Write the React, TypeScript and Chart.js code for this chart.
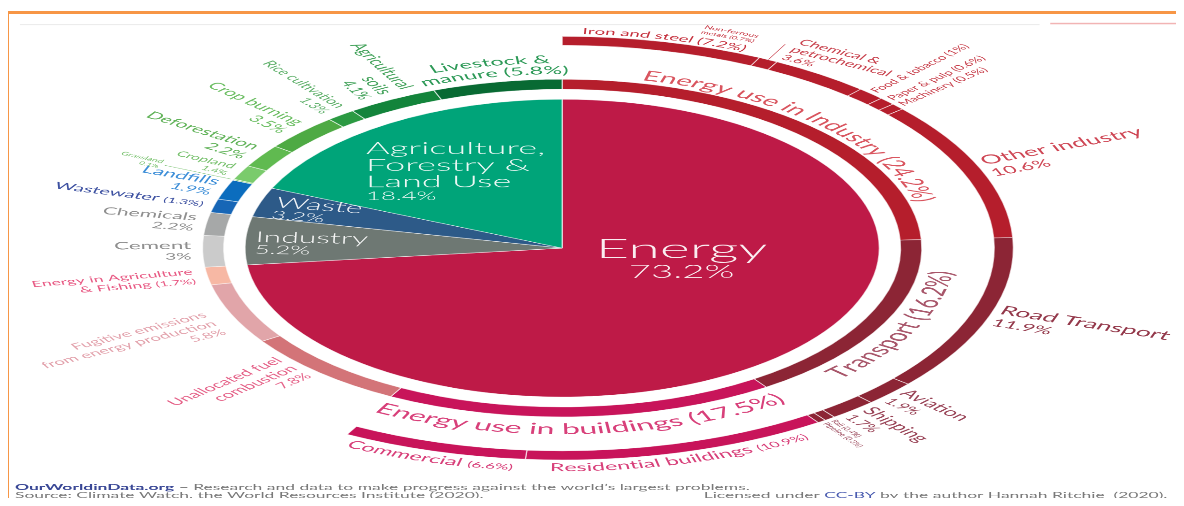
import React, { useEffect, useRef } from "react";
import { Chart, registerables } from "chart.js";

Chart.register(...registerables);

// ---------------- data ----------------
const sectorNames = ["Energy", "Industry", "Waste", "Agriculture, Forestry & Land Use"];
const sectorValues = [73.2, 5.2, 3.2, 18.4];
const sectorColors = ["#BE1A47", "#6E7873", "#2D5A88", "#00A479"];

const subNames = [
  "Energy use in Industry", "Transport", "Energy use in buildings", "Unallocated fuel combustion",
  "Fugitive emissions from energy production", "Energy in Agriculture & Fishing", "Cement", "Chemicals",
  "Wastewater", "Landfills", "Grassland", "Cropland", "Deforestation", "Crop burning",
  "Rice cultivation", "Agricultural soils", "Livestock & manure",
];
const subValues = [24.2, 16.2, 17.5, 7.8, 5.8, 1.7, 3, 2.2, 1.3, 1.9, 0.1, 1.4, 2.2, 3.5, 1.3, 4.1, 5.8];
const subColors = [
  "#B51E2C", "#8C2535", "#C8145A", "#D37478", "#E1A5A9", "#F7B8A4", "#CBCBCB", "#A6A8A8",
  "#1766B6", "#0B6DBE", "#86D07A", "#7ACB6C", "#60BA50", "#4EAA44", "#2B9A42", "#13843B", "#086A33",
];

const detailNames = [
  "Iron and steel", "Non-ferrous metals", "Chemical & petrochemical", "Food & tobacco", "Paper & pulp",
  "Machinery", "Other industry", "Road Transport", "Aviation", "Shipping", "Rail", "Pipeline",
  "Residential buildings", "Commercial",
];
const detailValues = [7.2, 0.7, 3.6, 1, 0.6, 0.5, 10.6, 11.9, 1.9, 1.7, 0.4, 0.3, 10.9, 6.6];
const detailColors = [
  "#B51E2C", "#B51E2C", "#B51E2C", "#B51E2C", "#B51E2C", "#B51E2C", "#B51E2C",
  "#8C2535", "#8C2535", "#8C2535", "#8C2535", "#8C2535", "#C8145A", "#C8145A",
];

// ---------------- layout (virtual, un-stretched space) ----------------
const VW = 548;
const VH = 498;
const SX = 1168 / VW;
const FONT = "Lato, 'Noto Sans', sans-serif";
const TRANSPARENT = "rgba(0,0,0,0)";
const SEP = "rgba(255,255,255,0.65)";

type Seg = [string, number];
type Spec = {
  ring: "sector" | "sub" | "detail";
  i: number;
  kind: "radial" | "arc" | "tangent" | "flat";
  color: string;
  lines: Seg[][];
  r?: number;
  dA?: number;
  ty?: number;
  gap?: number;
  mode?: "out" | "in";
  align?: "left" | "right" | "center";
  lh?: number;
  leader?: [number, number];
  dx?: number;
  dys?: number[];
  rot?: number;
  weight?: number;
};

const W = "rgba(255,255,255,0.92)";
const LABELS: Spec[] = [
  // centre pie
  { ring: "sector", i: 0, kind: "flat", color: W, weight: 300, align: "center", dx: 56, dys: [10, 30], lines: [[["Energy", 27]], [["{v}%", 18]]] },
  { ring: "sector", i: 3, kind: "flat", color: W, weight: 300, align: "left", dx: -92, dys: [-94, -77, -61, -48], lines: [[["Agriculture,", 17]], [["Forestry &", 17]], [["Land Use", 17]], [["{v}%", 12]]] },
  { ring: "sector", i: 2, kind: "flat", color: W, weight: 300, align: "left", dx: -135, dys: [-41, -29.5], rot: 9, lines: [[["Waste", 15]], [["{v}%", 11.5]]] },
  { ring: "sector", i: 1, kind: "flat", color: W, weight: 300, align: "left", dx: -144, dys: [-6, 5.5], rot: 2, lines: [[["Industry", 15]], [["{v}%", 12]]] },

  // inner sub-sector ring
  { ring: "sub", i: 0, kind: "arc", mode: "out", r: 172, color: "#D9555F", lines: [[["Energy use in Industry ({v}%)", 14]]] },
  { ring: "sub", i: 1, kind: "arc", mode: "in", r: 185, color: "#A8566A", lines: [[["Transport ({v}%)", 15.5]]] },
  { ring: "sub", i: 2, kind: "arc", mode: "in", r: 186, color: "#D8407A", lines: [[["Energy use in buildings ({v}%)", 15]]] },
  { ring: "sub", i: 3, kind: "radial", r: 173, dA: 6, ty: 6, color: "#E5648A", lines: [[["Unallocated fuel", 9.5]], [["combustion", 9.5]], [["{v}%", 8.5]]] },
  { ring: "sub", i: 4, kind: "radial", r: 179, dA: -5, ty: -10, color: "#E3A3AD", lines: [[["Fugitive emissions", 8.8]], [["from energy production", 8.8]], [["{v}%", 8.2]]] },
  { ring: "sub", i: 5, kind: "radial", r: 175, color: "#E85A84", lines: [[["Energy in Agriculture", 8.3]], [["& Fishing ", 8.3], ["({v}%)", 7]]] },
  { ring: "sub", i: 6, kind: "radial", r: 174, color: "#8F8F8F", lines: [[["Cement", 10.5]], [["{v}%", 9]]] },
  { ring: "sub", i: 7, kind: "radial", r: 174, color: "#8F8F8F", lines: [[["Chemicals", 10]], [["{v}%", 9]]] },
  { ring: "sub", i: 8, kind: "radial", r: 174, color: "#3D51A1", lines: [[["Wastewater ", 9.5], ["({v}%)", 7]]] },
  { ring: "sub", i: 9, kind: "radial", r: 174, color: "#3E8FD8", lines: [[["Landfills", 10.5]], [["{v}%", 9]]] },
  { ring: "sub", i: 10, kind: "radial", r: 206, color: "#76C06C", leader: [170, 204], lines: [[["Grassland", 5]], [["{v}%", 4.5]]] },
  { ring: "sub", i: 11, kind: "radial", r: 174, color: "#76C06C", lines: [[["Cropland", 7.5]], [["{v}%", 6]]] },
  { ring: "sub", i: 12, kind: "radial", r: 175, color: "#62B35A", lines: [[["Deforestation", 10]], [["{v}%", 9.5]]] },
  { ring: "sub", i: 13, kind: "radial", r: 175, color: "#6CBE63", lines: [[["Crop burning", 10]], [["{v}%", 9.5]]] },
  { ring: "sub", i: 14, kind: "radial", r: 175, color: "#5FB06A", lines: [[["Rice cultivation", 8.5]], [["{v}%", 8]]] },
  { ring: "sub", i: 15, kind: "radial", r: 175, color: "#42A25A", lines: [[["Agricultural", 10]], [["soils", 10]], [["{v}%", 9]]] },
  { ring: "sub", i: 16, kind: "arc", mode: "out", r: 185, gap: 11, color: "#2E9A58", lines: [[["Livestock &", 11]], [["manure ({v}%)", 11]]] },

  // outer detail ring
  { ring: "detail", i: 0, kind: "arc", mode: "out", r: 214, color: "#C5303D", lines: [[["Iron and steel ({v}%)", 8.7]]] },
  { ring: "detail", i: 1, kind: "tangent", r: 229, dA: -7, align: "center", lh: 1.05, leader: [212, 229], color: "#C5303D", lines: [[["Non-ferrous", 5]], [["metals ({v}%)", 4.5]]] },
  { ring: "detail", i: 2, kind: "tangent", r: 232, dA: -6.5, align: "left", lh: 1.0, color: "#C8404C", lines: [[["Chemical &", 8.5]], [["petrochemical", 8.5]], [["{v}%", 7.5]]] },
  { ring: "detail", i: 3, kind: "radial", r: 214, color: "#C8404C", lines: [[["Food & tobacco ({v}%)", 7]]] },
  { ring: "detail", i: 4, kind: "radial", r: 214, color: "#C8404C", lines: [[["Paper & pulp ({v}%)", 7]]] },
  { ring: "detail", i: 5, kind: "radial", r: 214, color: "#C8404C", lines: [[["Machinery ({v}%)", 7]]] },
  { ring: "detail", i: 6, kind: "radial", r: 215, color: "#CF4856", lines: [[["Other industry", 12.5]], [["{v}%", 10.5]]] },
  { ring: "detail", i: 7, kind: "radial", r: 215, color: "#94394B", lines: [[["Road Transport", 12.5]], [["{v}%", 10.5]]] },
  { ring: "detail", i: 8, kind: "radial", r: 215, color: "#9A4558", lines: [[["Aviation", 11]], [["{v}%", 9]]] },
  { ring: "detail", i: 9, kind: "radial", r: 215, color: "#9A4558", lines: [[["Shipping", 11]], [["{v}%", 9]]] },
  { ring: "detail", i: 10, kind: "radial", r: 214, color: "#9A4558", lines: [[["Rail ({v}%)", 4.5]]] },
  { ring: "detail", i: 11, kind: "radial", r: 214, color: "#9A4558", lines: [[["Pipeline ({v}%)", 4.5]]] },
  { ring: "detail", i: 12, kind: "arc", mode: "in", r: 223, color: "#D8407A", lines: [[["Residential buildings ", 11], ["({v}%)", 8]]] },
  { ring: "detail", i: 13, kind: "arc", mode: "in", r: 223, color: "#D8407A", lines: [[["Commercial ", 11], ["({v}%)", 8]]] },
];

function fontStr(s: number, w = 400) {
  return `${w} ${s}px ${FONT}`;
}

function segsWidth(ctx: CanvasRenderingContext2D, segs: Seg[], w: number) {
  let t = 0;
  for (const [txt, s] of segs) {
    ctx.font = fontStr(s, w);
    t += ctx.measureText(txt).width;
  }
  return t;
}

function drawSegs(ctx: CanvasRenderingContext2D, segs: Seg[], x: number, y: number, align: string, w: number) {
  const tot = segsWidth(ctx, segs, w);
  let sx = align === "left" ? x : align === "right" ? x - tot : x - tot / 2;
  ctx.textAlign = "left";
  for (const [txt, s] of segs) {
    ctx.font = fontStr(s, w);
    ctx.fillText(txt, sx, y);
    sx += ctx.measureText(txt).width;
  }
}

function drawArcLine(ctx: CanvasRenderingContext2D, cx: number, cy: number, R: number, ac: number, segs: Seg[], mode: string, w: number) {
  const items: { ch: string; s: number; cw: number }[] = [];
  for (const [txt, s] of segs) {
    ctx.font = fontStr(s, w);
    for (const ch of txt) items.push({ ch, s, cw: ctx.measureText(ch).width });
  }
  const total = items.reduce((a, b) => a + b.cw, 0);
  const span = total / R;
  let acc = 0;
  ctx.textAlign = "center";
  for (const it of items) {
    const m = (acc + it.cw / 2) / R;
    const th = mode === "out" ? ac - span / 2 + m : ac + span / 2 - m;
    ctx.save();
    ctx.translate(cx + R * Math.cos(th), cy + R * Math.sin(th));
    ctx.rotate(mode === "out" ? th + Math.PI / 2 : th - Math.PI / 2);
    ctx.font = fontStr(it.s, w);
    ctx.fillText(it.ch, 0, 0);
    ctx.restore();
    acc += it.cw;
  }
}

const labelPlugin = {
  id: "owidLabels",
  afterDatasetsDraw(chart: any) {
    const ctx: CanvasRenderingContext2D = chart.ctx;
    const metas: any = {
      detail: chart.getDatasetMeta(0),
      sub: chart.getDatasetMeta(2),
      sector: chart.getDatasetMeta(4),
    };
    const vals: any = { detail: detailValues, sub: subValues, sector: sectorValues };
    const first = metas.sector.data[0];
    const cx = first.x;
    const cy = first.y;
    ctx.save();
    ctx.textBaseline = "alphabetic";
    for (const sp of LABELS) {
      const arc = metas[sp.ring].data[sp.i];
      const mid = (arc.startAngle + arc.endAngle) / 2;
      const a = mid + ((sp.dA || 0) * Math.PI) / 180;
      const v = vals[sp.ring][sp.i];
      const lines: Seg[][] = sp.lines.map((l) => l.map(([t, s]) => [t.replace("{v}", String(v)), s] as Seg));
      const w = sp.weight || 400;
      ctx.fillStyle = sp.color;
      ctx.strokeStyle = sp.color;
      if (sp.leader) {
        ctx.beginPath();
        ctx.lineWidth = 0.4;
        ctx.moveTo(cx + sp.leader[0] * Math.cos(mid), cy + sp.leader[0] * Math.sin(mid));
        ctx.lineTo(cx + sp.leader[1] * Math.cos(mid), cy + sp.leader[1] * Math.sin(mid));
        ctx.stroke();
      }
      if (sp.kind === "flat") {
        ctx.save();
        ctx.translate(cx + (sp.dx || 0), cy + sp.dys![0]);
        if (sp.rot) ctx.rotate((sp.rot * Math.PI) / 180);
        lines.forEach((segs, k) => drawSegs(ctx, segs, 0, sp.dys![k] - sp.dys![0], sp.align || "left", w));
        ctx.restore();
      } else if (sp.kind === "radial") {
        const lh = sp.lh || 1.12;
        const right = Math.cos(a) > 0.0001;
        const bl: number[] = [];
        let y = 0;
        for (const segs of lines) {
          const s = Math.max(...segs.map((g) => g[1]));
          bl.push(y + s * 0.8);
          y += s * lh;
        }
        const H = y;
        ctx.save();
        ctx.translate(cx, cy);
        ctx.rotate(right ? a : a + Math.PI);
        const x = right ? sp.r! : -sp.r!;
        const ty = sp.ty || 0;
        lines.forEach((segs, k) => drawSegs(ctx, segs, x, bl[k] - H / 2 + ty, right ? "left" : "right", w));
        ctx.restore();
      } else if (sp.kind === "tangent") {
        const lh = sp.lh || 1.1;
        ctx.save();
        ctx.translate(cx + sp.r! * Math.cos(a), cy + sp.r! * Math.sin(a));
        ctx.rotate(a + Math.PI / 2);
        let y = 0;
        for (const segs of lines) {
          drawSegs(ctx, segs, 0, y, sp.align || "left", w);
          y += Math.max(...segs.map((g) => g[1])) * lh;
        }
        ctx.restore();
      } else {
        const gap = sp.gap || 12;
        lines.forEach((segs, k) => {
          const R = sp.mode === "out" ? sp.r! - k * gap : sp.r! + k * gap;
          drawArcLine(ctx, cx, cy, R, a, segs, sp.mode || "out", w);
        });
      }
    }
    ctx.restore();
  },
  afterDraw(chart: any) {
    const ctx: CanvasRenderingContext2D = chart.ctx;
    ctx.save();
    // faint top rules
    ctx.strokeStyle = "#ececec";
    ctx.lineWidth = 1;
    ctx.beginPath();
    ctx.moveTo(5.6, 16.5);
    ctx.lineTo(484, 16.5);
    ctx.stroke();
    ctx.strokeStyle = "#F2B4B4";
    ctx.lineWidth = 1.5;
    ctx.beginPath();
    ctx.moveTo(489, 15.5);
    ctx.lineTo(548, 15.5);
    ctx.stroke();
    // footer
    ctx.textBaseline = "alphabetic";
    ctx.textAlign = "left";
    const fs = 8.2;
    const y1 = 482;
    const y2 = 490;
    ctx.fillStyle = "#3A4896";
    ctx.font = fontStr(fs, 700);
    ctx.fillText("OurWorldinData.org", 3.3, y1);
    const ow = ctx.measureText("OurWorldinData.org").width;
    ctx.fillStyle = "#7A7A7A";
    ctx.font = fontStr(fs, 400);
    ctx.fillText(" \u2013 Research and data to make progress against the world\u2019s largest problems.", 3.3 + ow, y1);
    ctx.fillText("Source: Climate Watch, the World Resources Institute (2020).", 3.3, y2);
    const p1 = "Licensed under ";
    const p2 = "CC-BY";
    const p3 = " by the author Hannah Ritchie  (2020).";
    const w1 = ctx.measureText(p1).width;
    const w2 = ctx.measureText(p2).width;
    const w3 = ctx.measureText(p3).width;
    let x = 544 - (w1 + w2 + w3);
    ctx.fillText(p1, x, y2);
    x += w1;
    ctx.fillStyle = "#4A5CB0";
    ctx.fillText(p2, x, y2);
    x += w2;
    ctx.fillStyle = "#7A7A7A";
    ctx.fillText(p3, x, y2);
    ctx.restore();
  },
};

export default function App() {
  const ref = useRef<HTMLCanvasElement>(null);
  useEffect(() => {
    const canvas = ref.current;
    if (!canvas) return;
    const detailFiller = 100 - detailValues.reduce((a, b) => a + b, 0);
    const chart = new Chart(canvas, {
      type: "doughnut",
      data: {
        labels: subNames,
        datasets: [
          {
            label: "Detail",
            data: [...detailValues, detailFiller],
            backgroundColor: [...detailColors, TRANSPARENT],
            borderColor: SEP,
            borderWidth: [...detailValues.map(() => 0.6), 0],
            weight: 9,
            hoverOffset: 0,
          } as any,
          { label: "gap1", data: [1], backgroundColor: [TRANSPARENT], borderWidth: 0, weight: 34, hoverOffset: 0 } as any,
          {
            label: "Sub-sector",
            data: subValues,
            backgroundColor: subColors,
            borderColor: SEP,
            borderWidth: 0.6,
            weight: 10,
            hoverOffset: 0,
          } as any,
          { label: "gap2", data: [1], backgroundColor: [TRANSPARENT], borderWidth: 0, weight: 10, hoverOffset: 0 } as any,
          {
            label: "Sector",
            data: sectorValues,
            backgroundColor: sectorColors,
            borderColor: SEP,
            borderWidth: 0.6,
            weight: 149,
            hoverOffset: 0,
          } as any,
        ],
      },
      options: {
        responsive: false,
        animation: false,
        devicePixelRatio: SX * (window.devicePixelRatio || 1),
        events: [],
        cutout: 0,
        layout: { padding: { left: 48, top: 28, right: 76, bottom: 46 } },
        plugins: { legend: { display: false }, tooltip: { enabled: false } },
      } as any,
      plugins: [labelPlugin as any],
    });
    return () => chart.destroy();
  }, []);

  return (
    <div style={{ position: "relative", width: 1168, height: 490 }}>
      <div
        style={{
          position: "absolute",
          left: -2,
          top: 3,
          width: 1178,
          height: 495,
          borderTop: "3px solid #F79646",
          borderLeft: "3px solid #F79646",
          boxSizing: "border-box",
        }}
      />
      <div
        style={{
          position: "absolute",
          left: 0,
          top: 0,
          width: VW,
          height: VH,
          transform: `scaleX(${SX})`,
          transformOrigin: "0 0",
        }}
      >
        <canvas ref={ref} width={VW} height={VH} />
      </div>
    </div>
  );
}
